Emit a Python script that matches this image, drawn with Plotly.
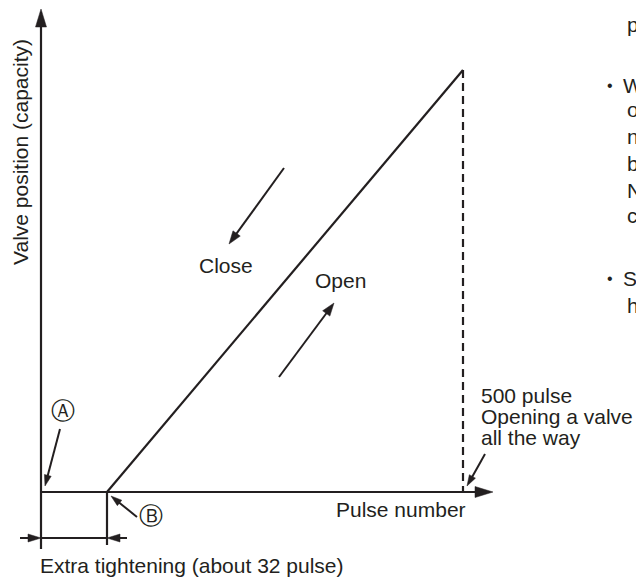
import numpy as np
import plotly.graph_objects as go

INK = "#231f20"
FONT = "Liberation Sans, Arial, Helvetica, sans-serif"

# ---- schematic landmarks (diagram units = page pixels, y grows downward) ----
origin_x, origin_y = 41, 492          # Ⓐ : fully closed (0 pulse)
y_axis_tip = 9
y_axis_bottom = 549
x_axis_tip = 493
pulse_b_x = 107                        # Ⓑ : start of opening (about 32 pulse)
pulse_b_tick_bottom = 545
full_open_x, full_open_y = 463, 70     # 500 pulse
dim_y = 538
dim_left_tail, dim_right_tail = 20, 127

# pointer arrows: (tail_x, tail_y, tip_x, tip_y, head_len, head_w)
pointer_arrows = [
    (284, 168, 229, 244, 13, 9),   # Close
    (279, 377, 334, 303, 13, 9),   # Open
    (60, 429, 45, 486, 11, 7),     # Ⓐ
    (137, 517, 111, 496, 11, 7),   # Ⓑ
    (485, 454, 467, 486, 11, 7),   # 500 pulse
]

# text labels: (text, x, y, size)
labels = [
    ("Close", 197, 265, 21),
    ("Open", 313, 280, 21),
    ("Pulse number", 334, 509, 21),
    ("Extra tightening (about 32 pulse)", 38, 565, 21),
    ("500 pulse", 479, 395, 21),
    ("Opening a valve", 479, 416, 21),
    ("all the way", 479, 437, 21),
]
circled = [("Ⓐ", 63, 411), ("Ⓑ", 151, 516)]
side_text = [("p", 625, 24), ("W", 621, 85), ("o", 625, 109), ("n", 625, 136),
             ("b", 625, 163), ("N", 625, 190), ("c", 625, 215),
             ("S", 621, 278), ("h", 625, 305)]
bullets = [(610, 85), (610, 278)]
y_label = "Valve position (capacity)"

fig = go.Figure()


def line(xs, ys, width=2.2, dash=None):
    fig.add_trace(go.Scatter(x=xs, y=ys, mode="lines", hoverinfo="skip",
                             line=dict(color=INK, width=width, dash=dash)))


def arrow(tx, ty, hx, hy, hl, hw, width=2.0):
    d = np.array([hx - tx, hy - ty], float)
    d /= np.hypot(*d)
    n = np.array([-d[1], d[0]])
    base = np.array([hx, hy]) - d * hl
    line([tx, base[0] + d[0] * 1.5], [ty, base[1] + d[1] * 1.5], width)
    p1 = base + n * hw / 2
    p2 = base - n * hw / 2
    fig.add_trace(go.Scatter(x=[hx, p1[0], p2[0], hx], y=[hy, p1[1], p2[1], hy],
                             mode="lines", fill="toself", fillcolor=INK,
                             line=dict(color=INK, width=0.5), hoverinfo="skip"))


# axes
arrow(origin_x, y_axis_bottom, origin_x, y_axis_tip, 18, 11, 2.2)
arrow(origin_x, origin_y, x_axis_tip, origin_y, 18, 11, 2.2)
# valve characteristic
line([pulse_b_x, full_open_x], [origin_y, full_open_y], 2.2)
line([full_open_x, full_open_x], [full_open_y, origin_y], 2.2, dash="8px,5px")
# extra tightening dimension
line([pulse_b_x, pulse_b_x], [origin_y, pulse_b_tick_bottom], 2.2)
line([origin_x, pulse_b_x], [dim_y, dim_y], 2.0)
arrow(dim_left_tail, dim_y, origin_x, dim_y, 13, 8, 2.0)
arrow(dim_right_tail, dim_y, pulse_b_x, dim_y, 13, 8, 2.0)
for a in pointer_arrows:
    arrow(*a)

ann = []
for t, x, y, s in labels:
    ann.append(dict(text=t, x=x, y=y, xref="x", yref="y", xanchor="left",
                    yanchor="middle", showarrow=False,
                    font=dict(family=FONT, size=s, color=INK)))
for t, x, y in circled:
    ann.append(dict(text=t, x=x, y=y, xref="x", yref="y", xanchor="center",
                    yanchor="middle", showarrow=False,
                    font=dict(family="DejaVu Sans", size=24, color=INK)))
for t, x, y in side_text:
    ann.append(dict(text=t, x=x, y=y, xref="x", yref="y", xanchor="left",
                    yanchor="middle", showarrow=False,
                    font=dict(family=FONT, size=21, color=INK)))
for x, y in bullets:
    ann.append(dict(text="•", x=x, y=y, xref="x", yref="y", xanchor="center",
                    yanchor="middle", showarrow=False,
                    font=dict(family=FONT, size=16, color=INK)))
ann.append(dict(text=y_label, x=20, y=152, xref="x", yref="y", xanchor="center",
                yanchor="middle", showarrow=False, textangle=-90,
                font=dict(family=FONT, size=21, color=INK)))

fig.update_layout(
    width=636, height=578, margin=dict(l=0, r=0, t=0, b=0),
    paper_bgcolor="white", plot_bgcolor="white", showlegend=False,
    xaxis=dict(range=[0, 636], visible=False, fixedrange=True),
    yaxis=dict(range=[578, 0], visible=False, fixedrange=True),
    annotations=ann,
)
fig.write_html(
    "out.html",
    config={"displayModeBar": False, "staticPlot": True},
    post_script="document.body.style.margin='0';document.body.style.overflow='hidden';",
)
